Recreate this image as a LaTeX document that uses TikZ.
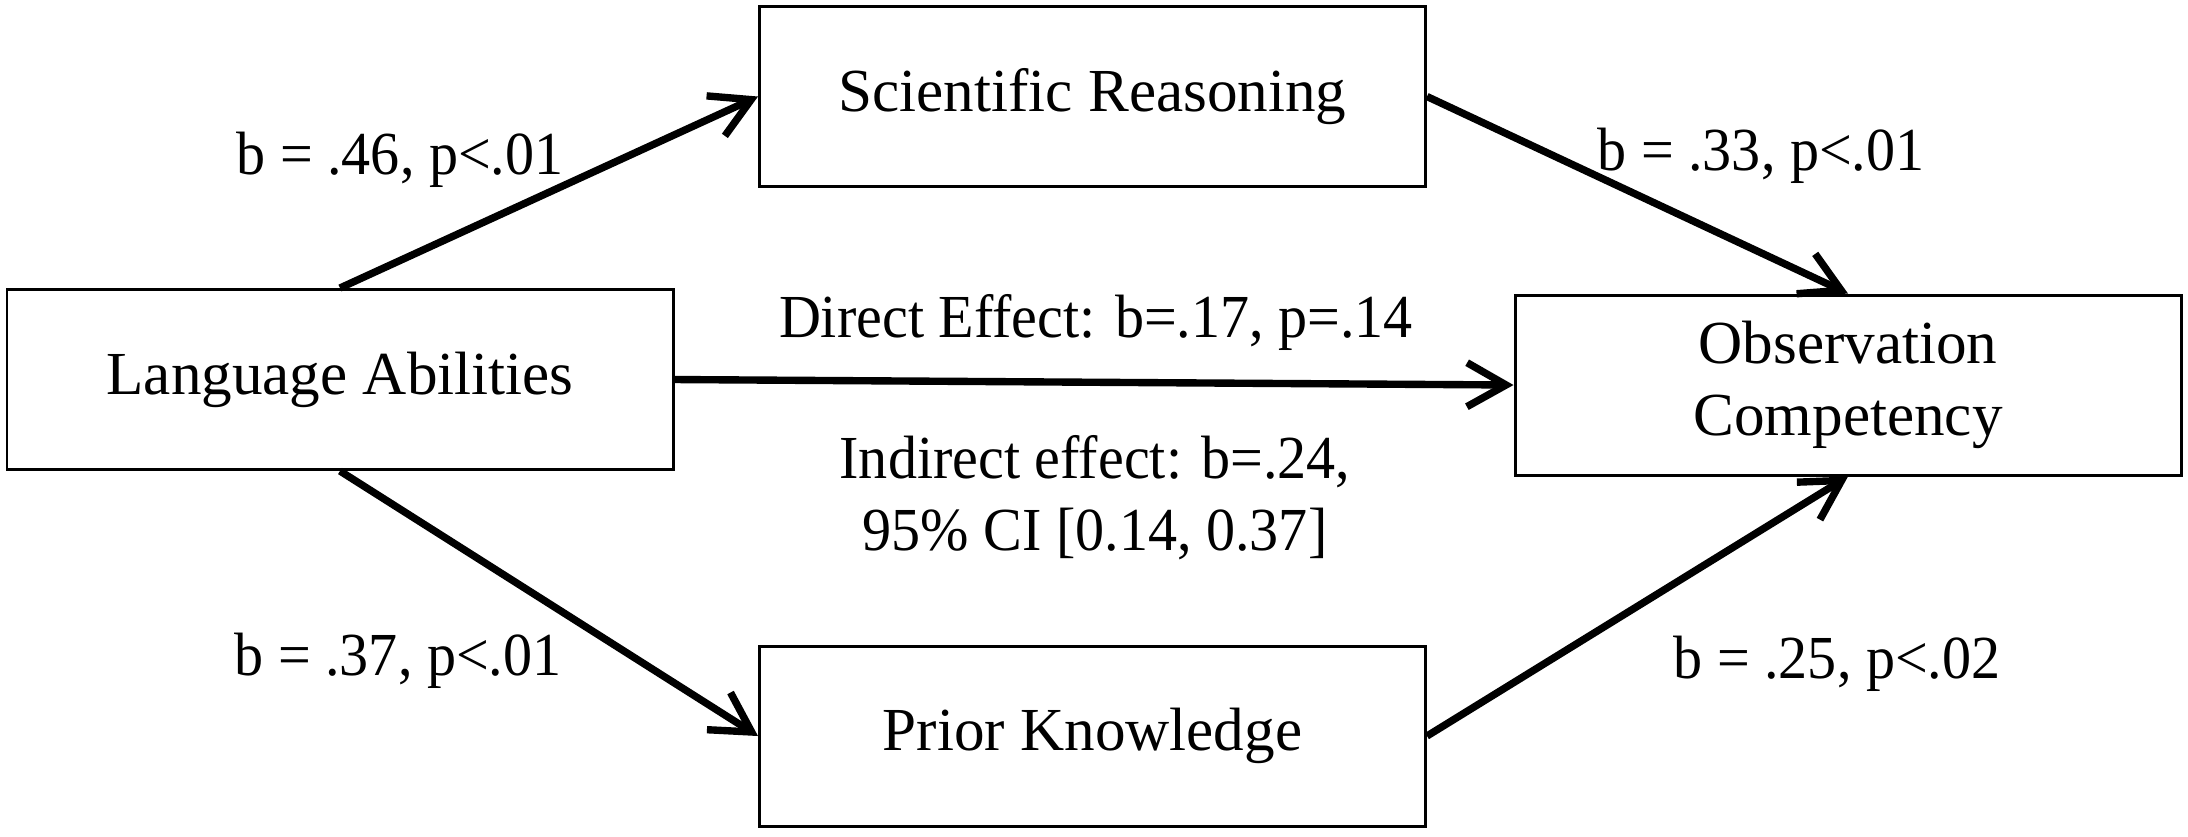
\documentclass[tikz,border=0pt]{standalone}
\usepackage{fontspec}
\setmainfont{Liberation Serif}
\newfontfamily\coeffont[FakeStretch=0.95]{Liberation Serif}
\usetikzlibrary{arrows.meta}

\begin{document}
\begin{tikzpicture}[
    every node/.style={font=\fontsize{17.4}{20.5}\selectfont},
    var/.style={draw, line width=0.85pt, minimum width=6.66cm, minimum height=1.8cm, inner sep=0pt, align=center},
    coef/.style={font=\coeffont\fontsize{17.4}{20.5}\selectfont, align=center},
    effect/.style={line width=2.1pt, -{Straight Barb[length=3.9mm,width=4.4mm]}}
  ]
  \useasboundingbox (0,0) rectangle (21.88,-8.36);
  % variables
  \node[var] (lang) at (3.40,-3.795) {Language Abilities};
  \node[var] (sci) at (10.925,-0.965) {Scientific Reasoning};
  \node[var] (prior) at (10.925,-7.36) {Prior Knowledge};
  \node[var] (obs) at (18.48,-3.85) {Observation\\Competency};
  % paths
  \draw[effect] (lang.north) -- (sci.west);
  \draw[effect] (sci.east) -- (obs.north);
  \draw[effect] (lang.south) -- (prior.west);
  \draw[effect] (prior.east) -- (obs.south);
  \draw[effect] (lang.east) -- (obs.west);
  % coefficients
  \node[coef] (bls) at (4.00,-1.60) {b = .46, p<.01};
  \node[coef] (bso) at (17.61,-1.56) {b = .33, p<.01};
  \node[coef] (blp) at (3.98,-6.61) {b = .37, p<.01};
  \node[coef] (bpo) at (18.37,-6.64) {b = .25, p<.02};
  \node[coef] (direct) at (10.96,-3.22) {Direct Effect: b=.17, p=.14};
  \node[coef] (indirect) at (10.95,-4.98) {Indirect effect: b=.24,\\95\% CI [0.14, 0.37]};
\end{tikzpicture}
\end{document}
